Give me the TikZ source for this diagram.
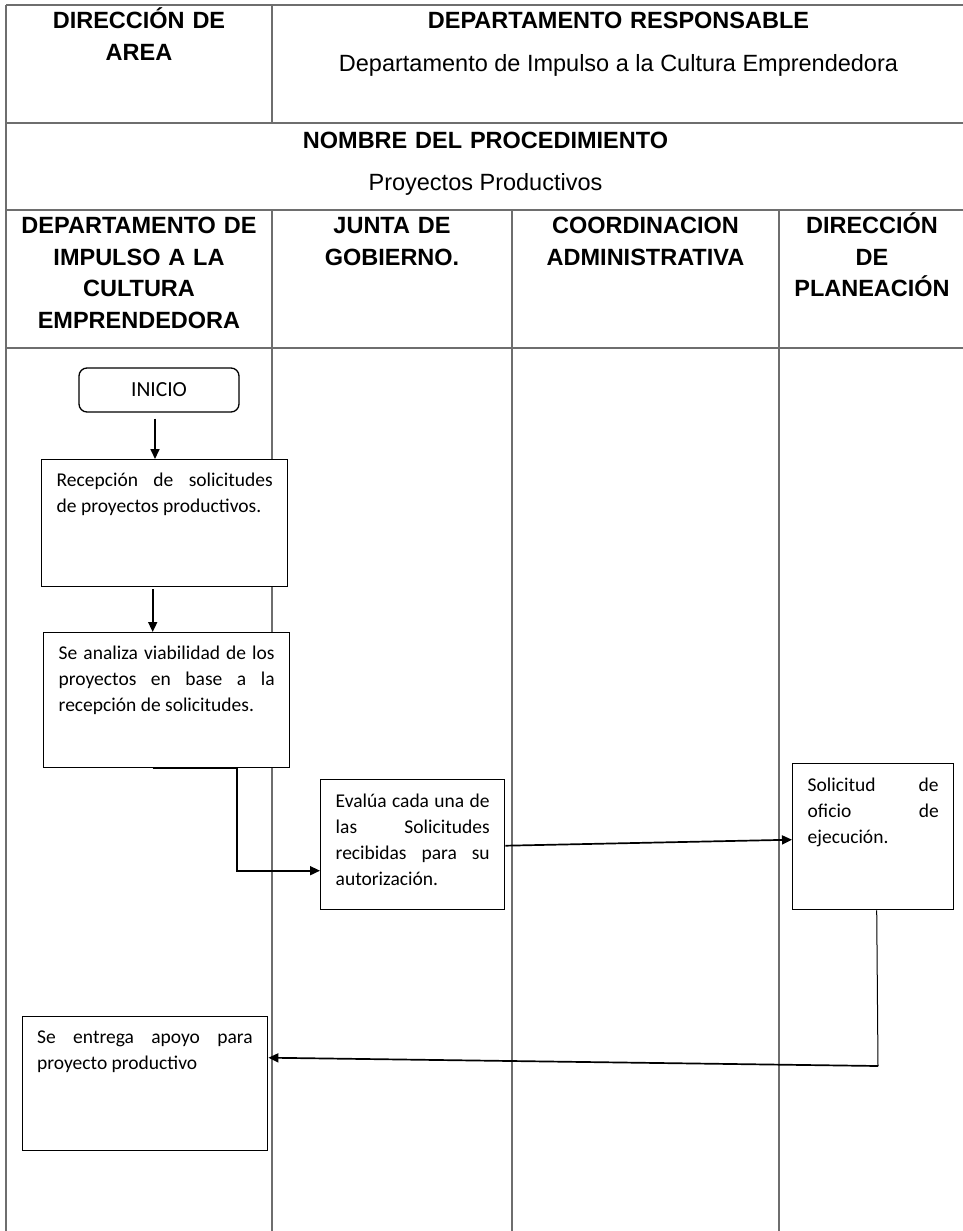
\documentclass[tikz,border=0pt]{standalone}
\usepackage{fontspec}
\setmainfont{Liberation Sans}
\newfontfamily\calib{Carlito}
\usetikzlibrary{arrows.meta}
\newcommand\hstrut{\rule{0pt}{22pt}}
\newcommand\boxtext[4]{\parbox[c][#2][t]{#1}{\calib\fontsize{19.5}{26}\selectfont
  \leftskip=15pt\rightskip=15pt\parindent=0pt\parfillskip=0pt plus 1fil
  \tolerance=10000\hbadness=10000\hyphenpenalty=10000\rule{0pt}{#3}#4}}
\definecolor{tblgray}{RGB}{110,110,110}
\tikzset{
  tbl/.style={draw=tblgray, line width=1.2pt},
  hdr/.style={font=\bfseries\fontsize{23.5}{31.6}\selectfont, align=center, inner sep=0pt, anchor=north},
  hreg/.style={font=\fontsize{23.5}{28}\selectfont, inner sep=0pt, anchor=base},
  stepbox/.style={draw, fill=white, line width=1.4pt, inner sep=0pt, anchor=north west},
  arr/.style={line width=1.7pt, -{Triangle[length=10pt,width=9pt]}},
  thinln/.style={line width=1pt}
}
\begin{document}
\begin{tikzpicture}[x=1pt, y=-1pt]
\useasboundingbox (0,0) rectangle (963,1231);
% table grid
\draw[tbl] (6,5) -- (963,5);
\draw[tbl] (6,5) -- (6,1231);
\draw[tbl] (272,5) -- (272,123);
\draw[tbl] (6,123) -- (963,123);
\draw[tbl] (6,210) -- (963,210);
\draw[tbl] (6,348) -- (963,348);
\draw[tbl] (272,210) -- (272,1231);
\draw[tbl] (512,210) -- (512,1231);
\draw[tbl] (779,210) -- (779,1231);
% headers
\node[hdr, text width=250pt] (hdir) at (139,6.5) {\hstrut DIRECCIÓN DE\\AREA};
\node[hdr, text width=600pt] (hdep) at (618.5,6.5) {\hstrut DEPARTAMENTO RESPONSABLE};
\node[hreg] (hdepname) at (618.5,71.5) {Departamento de Impulso a la Cultura Emprendedora};
\node[hdr, text width=700pt] (hnom) at (485.5,126) {\hstrut NOMBRE DEL PROCEDIMIENTO};
\node[hreg] (hproc) at (485.5,190) {Proyectos Productivos};
\node[hdr, text width=260pt] (c1) at (139,211.5) {\hstrut DEPARTAMENTO DE\\IMPULSO A LA\\CULTURA\\EMPRENDEDORA};
\node[hdr, text width=234pt] (c2) at (392,211.5) {\hstrut JUNTA DE\\GOBIERNO.};
\node[hdr, text width=262pt] (c3) at (645.5,211.5) {\hstrut COORDINACION\\ADMINISTRATIVA};
\node[hdr, text width=180pt] (c4) at (872,211.5) {\hstrut DIRECCIÓN\\DE\\PLANEACIÓN};
% flow nodes
\node[draw, fill=white, rounded corners=8pt, line width=1.3pt, minimum width=160pt, minimum height=44pt,
      inner sep=0pt, font=\calib\fontsize{21.5}{26}\selectfont] (inicio) at (159,390) {INICIO};
\node[stepbox] (box1) at (41,459) {\boxtext{246pt}{127pt}{27pt}{Recepción de solicitudes\linebreak de proyectos productivos.}};
\node[stepbox] (box2) at (43,632) {\boxtext{246pt}{135pt}{27pt}{Se analiza viabilidad de los\linebreak proyectos en base a la\linebreak recepción de solicitudes.}};
\node[stepbox] (box3) at (320,779) {\boxtext{184pt}{130pt}{28pt}{Evalúa cada una de\linebreak las Solicitudes\linebreak recibidas para su\linebreak autorización.}};
\node[stepbox] (box4) at (792,763) {\boxtext{161pt}{146pt}{28pt}{Solicitud de\linebreak oficio de\linebreak ejecución.}};
\node[stepbox] (box5) at (21.5,1016) {\boxtext{245.5pt}{134pt}{27pt}{Se entrega apoyo para\linebreak proyecto productivo}};
% connectors
\draw[arr] ([shift={(-4,6)}]inicio.south) -- ([xshift=-4pt]inicio.south |- box1.north);
\draw[arr] ([shift={(-12,2)}]box1.south) -- ([xshift=-12pt]box1.south |- box2.north);
\draw[arr] ([xshift=-14pt]box2.south) -- ([xshift=70pt]box2.south) |- ([yshift=-26pt]box3.west);
\draw[arr] ([yshift=-1pt]box3.east) -- ([yshift=-3pt]box4.west);
\coordinate (corner) at (878,1066);
\draw[thinln] ([xshift=3.5pt]box4.south) -- (corner);
\draw[arr] (corner) -- ([yshift=26pt]box5.east);
\end{tikzpicture}
\end{document}
